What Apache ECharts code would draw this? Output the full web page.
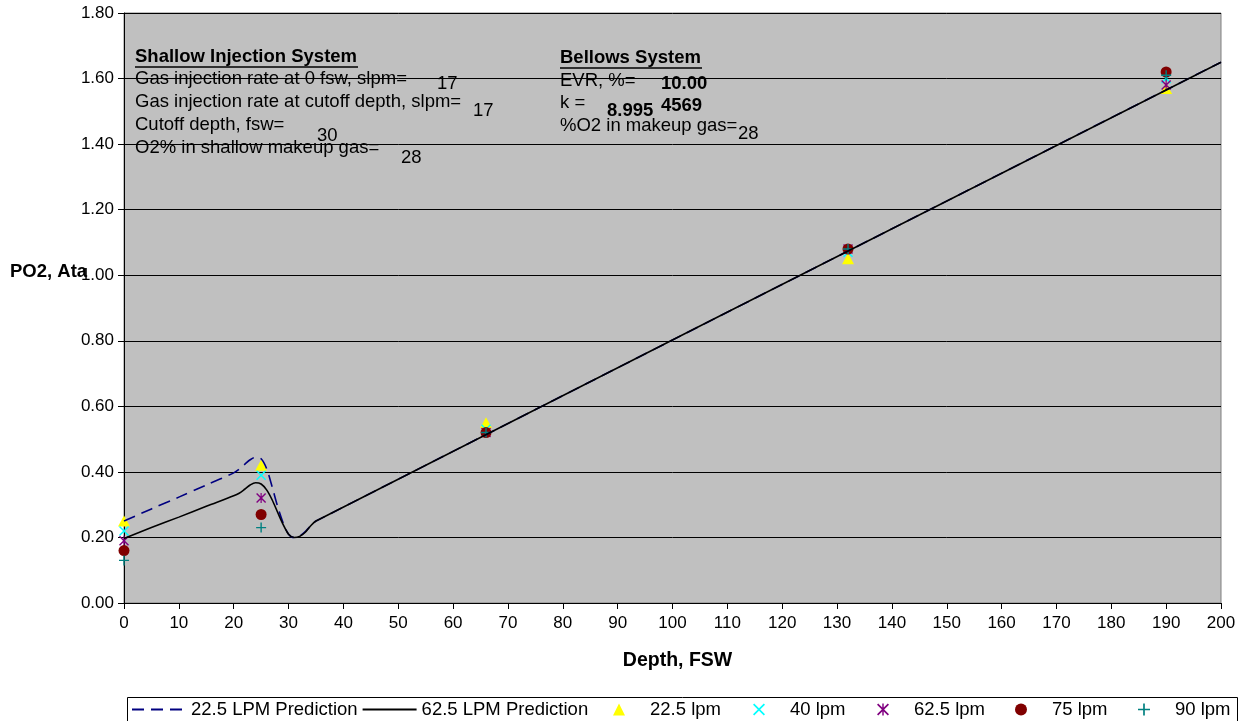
<!DOCTYPE html>
<html>
<head>
<meta charset="utf-8">
<script src="https://cdn.jsdelivr.net/npm/echarts@6/dist/echarts.min.js"></script>
<style>
  html, body { margin: 0; padding: 0; background: #ffffff; }
  #chart { width: 1248px; height: 721px; }
</style>
</head>
<body>
<div id="chart"></div>
<script>
// Measured PO2 (ata) at each test depth for each flow rate
const testDepths = [0, 25, 66, 132, 190];
const po2_22_5lpm = [0.25, 0.42, 0.55, 1.05, 1.57];
const po2_40lpm   = [0.22, 0.39, 0.53, 1.07, 1.60];
const po2_62_5lpm = [0.19, 0.32, 0.52, 1.08, 1.58];
const po2_75lpm   = [0.16, 0.27, 0.52, 1.08, 1.62];
const po2_90lpm   = [0.13, 0.23, 0.52, 1.08, 1.61];

// Predicted PO2 curves (depth in fsw, PO2 in ata)
const predDepth22 = [0, 5, 10, 15, 20, 21, 22, 23, 24, 25, 26, 27, 28, 29, 30, 31, 32, 33, 34, 35, 200];
const pred22      = [0.25, 0.287, 0.323, 0.36, 0.397, 0.408, 0.423, 0.437, 0.445, 0.44, 0.41, 0.355, 0.295, 0.245, 0.21, 0.2, 0.204, 0.217, 0.235, 0.25, 1.65];
const predDepth62 = [0, 5, 10, 15, 20, 21, 22, 23, 24, 25, 26, 27, 28, 29, 30, 31, 32, 33, 34, 35, 200];
const pred62      = [0.197, 0.23, 0.262, 0.295, 0.327, 0.335, 0.347, 0.36, 0.367, 0.363, 0.345, 0.315, 0.277, 0.24, 0.21, 0.2, 0.203, 0.215, 0.235, 0.25, 1.65];

// Axis ticks
const xTicks = { min: 0, max: 200, step: 10 };
const yTicks = { min: 0, max: 1.8, step: 0.2 };

const seriesNames = ['22.5 LPM Prediction', '62.5 LPM Prediction', '22.5 lpm', '40 lpm', '62.5 lpm', '75 lpm', '90 lpm'];

const FONT = '"Liberation Sans", Arial, sans-serif';

const pair = (xs, ys) => xs.map((x, i) => [x, ys[i]]);

// marker outlines
const xMark = 'path://M0,1L1,0L5,4L9,0L10,1L6,5L10,9L9,10L5,6L1,10L0,9L4,5Z';
const starMark = xMark + 'M4.4,0L5.6,0L5.6,10L4.4,10Z';
const plusMark = 'path://M4.3,0H5.7V4.3H10V5.7H5.7V10H4.3V5.7H0V4.3H4.3Z';

const chart = echarts.init(document.getElementById('chart'), null, { renderer: 'canvas' });

function txt(x, y, s, opts) {
  return {
    type: 'text', x: x, y: y, z: 1,
    style: Object.assign({
      text: s, fill: '#000', font: '18.5px ' + FONT,
      textAlign: 'left', textVerticalAlign: 'middle'
    }, opts || {})
  };
}
function uline(x1, x2, y) {
  return { type: 'line', z: 1, shape: { x1: x1, y1: y, x2: x2, y2: y }, style: { stroke: '#000', lineWidth: 1.3 } };
}
const BOLD = 'bold 18.5px ' + FONT;

const legendText = { fontFamily: FONT, fontSize: 18.5, color: '#000' };

// one legend entry per marker series, placed along the bottom box
const markerLegendLeft = [613, 753, 877, 1015, 1138];
const markerLegends = seriesNames.slice(2).map((name, i) => ({
  data: [name],
  left: markerLegendLeft[i], top: 700, padding: 0,
  itemWidth: 12, itemHeight: 12,
  textStyle: Object.assign({ padding: [0, 0, 0, 20] }, legendText)
}));

chart.setOption({
  animation: false,
  backgroundColor: '#ffffff',
  grid: {
    left: 124, right: 27, top: 13, bottom: 118,
    show: true, backgroundColor: '#C0C0C0', borderColor: '#808080', borderWidth: 1
  },
  xAxis: {
    type: 'value', min: xTicks.min, max: xTicks.max, interval: xTicks.step,
    name: 'Depth, FSW', nameLocation: 'middle', nameGap: 48,
    nameTextStyle: { fontFamily: FONT, fontWeight: 'bold', fontSize: 19.5, color: '#000', padding: [0, 0, 0, 10] },
    axisLine: { lineStyle: { color: '#000', width: 1 } },
    axisTick: { show: true, inside: false, length: 6, lineStyle: { color: '#000' } },
    axisLabel: { color: '#000', fontFamily: FONT, fontSize: 17, margin: 12 },
    splitLine: { show: false }
  },
  yAxis: {
    type: 'value', min: yTicks.min, max: yTicks.max, interval: yTicks.step,
    axisLine: { show: true, lineStyle: { color: '#000', width: 1 } },
    axisTick: { show: true, inside: false, length: 6, lineStyle: { color: '#000' } },
    axisLabel: { color: '#000', fontFamily: FONT, fontSize: 17, margin: 10, formatter: v => v.toFixed(2) },
    splitLine: { show: true, lineStyle: { color: '#000', width: 1 } }
  },
  legend: [
    {
      data: seriesNames.slice(0, 2),
      left: 131, top: 700, padding: 0, itemGap: 4,
      itemWidth: 54, itemHeight: 12,
      itemStyle: { opacity: 0 },
      textStyle: legendText
    }
  ].concat(markerLegends),
  graphic: [
    { type: 'rect', z: 0, shape: { x: 127.5, y: 697.5, width: 1110, height: 40 }, style: { fill: '#fff', stroke: '#000', lineWidth: 1 } },
    txt(10, 272, 'PO2, Ata', { font: 'bold 18.5px ' + FONT }),

    txt(135, 57, 'Shallow Injection System', { font: BOLD }),
    uline(135, 358, 67),
    txt(135, 79, 'Gas injection rate at 0 fsw, slpm='),
    txt(437, 84, '17'),
    txt(135, 102, 'Gas injection rate at cutoff depth, slpm='),
    txt(473, 111, '17'),
    txt(135, 125, 'Cutoff depth, fsw='),
    txt(317, 136, '30'),
    txt(135, 148, 'O2% in shallow makeup gas='),
    txt(401, 158, '28'),

    txt(560, 58, 'Bellows System', { font: BOLD }),
    uline(560, 702, 68),
    txt(560, 81, 'EVR, %='),
    txt(661, 84, '10.00', { font: BOLD }),
    txt(560, 103, 'k ='),
    txt(607, 111, '8.995', { font: BOLD }),
    txt(661, 106, '4569', { font: BOLD }),
    txt(560, 126, '%O2 in makeup gas='),
    txt(738, 134, '28')
  ],
  series: [
    {
      name: seriesNames[0], type: 'line', data: pair(predDepth22, pred22),
      symbol: 'none', smooth: 0.3, clip: true,
      lineStyle: { color: '#000080', width: 1.6, type: [12, 7] },
      itemStyle: { color: '#000080' }
    },
    {
      name: seriesNames[1], type: 'line', data: pair(predDepth62, pred62),
      symbol: 'none', smooth: 0.3, clip: true,
      lineStyle: { color: '#000000', width: 1.6 },
      itemStyle: { color: '#000000' }
    },
    {
      name: seriesNames[2], type: 'scatter', data: pair(testDepths, po2_22_5lpm),
      symbol: 'triangle', symbolSize: [12, 11], itemStyle: { color: '#FFFF00', opacity: 1 }
    },
    {
      name: seriesNames[3], type: 'scatter', data: pair(testDepths, po2_40lpm),
      symbol: xMark, symbolSize: 10, itemStyle: { color: '#00FFFF', opacity: 1 }
    },
    {
      name: seriesNames[4], type: 'scatter', data: pair(testDepths, po2_62_5lpm),
      symbol: starMark, symbolSize: 10, itemStyle: { color: '#800080', opacity: 1 }
    },
    {
      name: seriesNames[5], type: 'scatter', data: pair(testDepths, po2_75lpm),
      symbol: 'circle', symbolSize: 11, itemStyle: { color: '#800000', opacity: 1 }
    },
    {
      name: seriesNames[6], type: 'scatter', data: pair(testDepths, po2_90lpm),
      symbol: plusMark, symbolSize: 10, itemStyle: { color: '#008080', opacity: 1 }
    }
  ]
});
</script>
</body>
</html>
